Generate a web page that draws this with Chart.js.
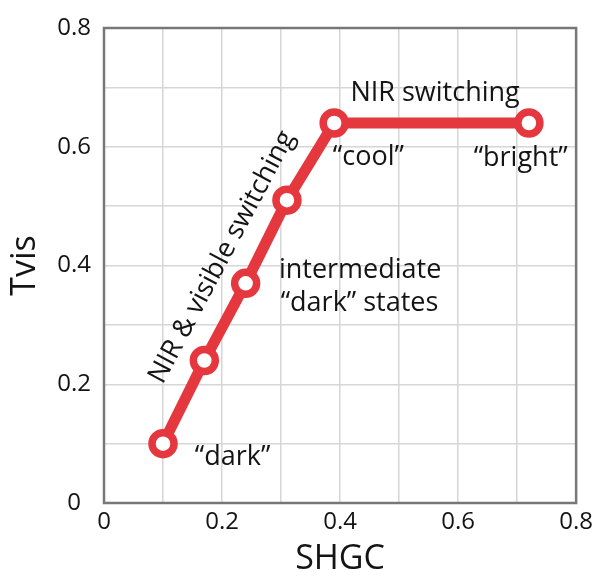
<!DOCTYPE html>
<html>
<head>
<meta charset="utf-8">
<script src="https://cdn.jsdelivr.net/npm/chart.js@4/dist/chart.umd.min.js"></script>
<style>
  html, body { margin: 0; padding: 0; background: #fff; }
  #chart { display: block; }
</style>
</head>
<body>
<canvas id="chart" width="598" height="576"></canvas>
<script>
// SHGC vs Tvis for the switching states
const shgc = [0.10, 0.17, 0.24, 0.31, 0.39, 0.72];
const tvis = [0.10, 0.24, 0.37, 0.51, 0.64, 0.64];

// tick labels (grid every 0.1, label every 0.2)
const xTickLabels = ['0', '0.2', '0.4', '0.6', '0.8'];
const yTickLabels = ['0', '0.2', '0.4', '0.6', '0.8'];

// text notes on the plot, placed in data units
const noteTexts = ['NIR switching', '\u201ccool\u201d', '\u201cbright\u201d', 'intermediate', '\u201cdark\u201d states', '\u201cdark\u201d', 'NIR & visible switching'];
const noteX = [0.561, 0.448, 0.706, 0.434, 0.433, 0.218, 0.200];
const noteY = [0.690, 0.583, 0.581, 0.392, 0.337, 0.077, 0.414];
const noteAngle = [0, 0, 0, 0, 0, 0, -62];

const red = '#E4373E';
const font = '"Open Sans", "Noto Sans", sans-serif';

// Rahmen rund um die Zeichenfläche
const framePlugin = {
    id: 'frame',
    beforeDatasetsDraw(chart) {
        const a = chart.chartArea;
        const ctx = chart.ctx;
        ctx.save();
        ctx.strokeStyle = '#777';
        ctx.lineWidth = 2.5;
        ctx.strokeRect(a.left, a.top, a.right - a.left, a.bottom - a.top);
        ctx.restore();
    }
};

// Beschriftungen im Diagramm
const notesPlugin = {
    id: 'notes',
    afterDatasetsDraw(chart) {
        const ctx = chart.ctx;
        const xs = chart.scales.x;
        const ys = chart.scales.y;
        ctx.save();
        ctx.fillStyle = '#141414';
        ctx.font = '27px ' + font;
        ctx.textAlign = 'center';
        ctx.textBaseline = 'middle';
        noteTexts.forEach((t, i) => {
            ctx.save();
            ctx.translate(xs.getPixelForValue(noteX[i]), ys.getPixelForValue(noteY[i]));
            ctx.rotate(noteAngle[i] * Math.PI / 180);
            ctx.fillText(t, 0, 0);
            ctx.restore();
        });
        ctx.restore();
    }
};

const gridOpts = { color: '#d6d6d6', lineWidth: 1.5, drawTicks: false };

new Chart(document.getElementById('chart').getContext('2d'), {
    type: 'scatter',
    data: {
        datasets: [{
            data: shgc.map((x, i) => ({ x: x, y: tvis[i] })),
            showLine: true,
            borderColor: red,
            borderWidth: 11,
            tension: 0,
            pointRadius: 11,
            pointBorderWidth: 7.5,
            pointBorderColor: red,
            pointBackgroundColor: '#fff',
            pointHoverRadius: 11
        }]
    },
    options: {
        responsive: false,
        animation: false,
        layout: { padding: { top: 28, right: 19, left: 0, bottom: 0 } },
        plugins: { legend: { display: false }, tooltip: { enabled: false } },
        scales: {
            x: {
                type: 'linear',
                min: 0,
                max: 0.8,
                grid: gridOpts,
                border: { display: false },
                ticks: {
                    stepSize: 0.1,
                    autoSkip: false,
                    maxRotation: 0,
                    padding: 5,
                    color: '#141414',
                    font: { family: font, size: 24 },
                    callback: (v, i) => (i % 2 === 0 ? xTickLabels[i / 2] : '')
                },
                title: {
                    display: true,
                    text: 'SHGC',
                    color: '#141414',
                    font: { family: font, size: 34, lineHeight: 1 },
                    padding: 0
                },
                afterFit: (s) => { s.height = 73; }
            },
            y: {
                min: 0,
                max: 0.8,
                grid: gridOpts,
                border: { display: false },
                ticks: {
                    stepSize: 0.1,
                    autoSkip: false,
                    padding: 13,
                    crossAlign: 'center',
                    color: '#141414',
                    font: { family: font, size: 24 },
                    callback: (v, i) => (i % 2 === 0 ? yTickLabels[i / 2] : '')
                },
                title: {
                    display: true,
                    text: 'Tvis',
                    color: '#141414',
                    font: { family: font, size: 34, lineHeight: 1 },
                    padding: { top: 8, bottom: 0 }
                },
                afterFit: (s) => { s.width = 104; }
            }
        }
    },
    plugins: [framePlugin, notesPlugin]
});
</script>
</body>
</html>
